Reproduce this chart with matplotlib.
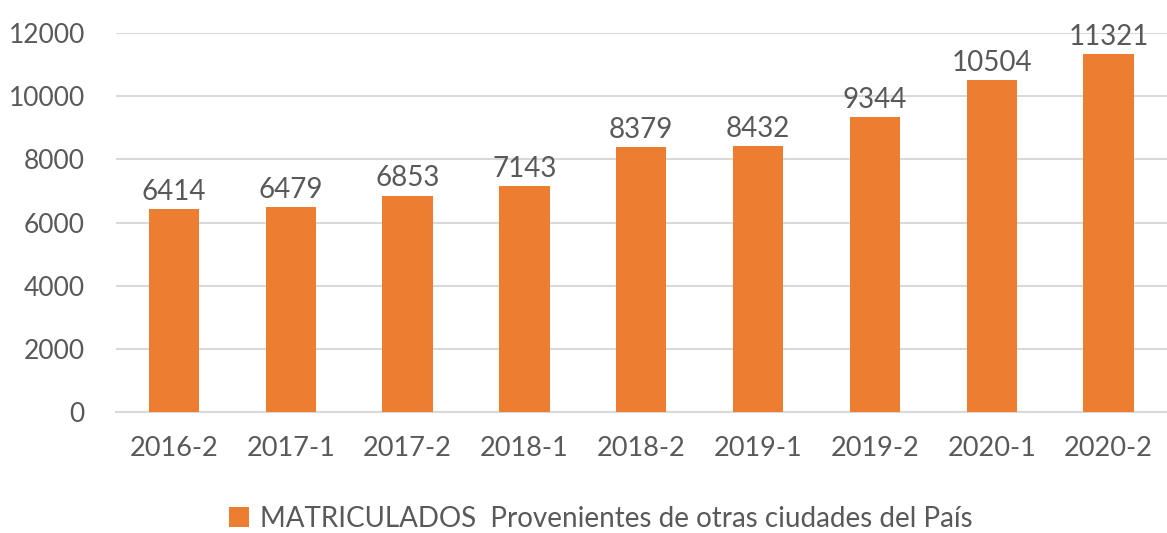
import matplotlib
matplotlib.use("Agg")
import matplotlib.pyplot as plt

# Datos del gráfico
periodos = ["2016-2", "2017-1", "2017-2", "2018-1", "2018-2",
            "2019-1", "2019-2", "2020-1", "2020-2"]
matriculados = [6414, 6479, 6853, 7143, 8379, 8432, 9344, 10504, 11321]
y_ticks = [0, 2000, 4000, 6000, 8000, 10000, 12000]
etiqueta_serie = "MATRICULADOS  Provenientes de otras ciudades del País"

NARANJA = "#ED7D31"
GRIS_TEXTO = "#595959"
GRIS_REJILLA = "#D9D9D9"

plt.rcParams["font.family"] = ["Lato", "DejaVu Sans"]

fig = plt.figure(figsize=(11.67, 5.33), dpi=100)
ax = fig.add_axes([0.099, 0.227, 0.901, 0.711])

x = range(len(periodos))
barras = ax.bar(x, matriculados, width=0.43, color=NARANJA, zorder=3,
                label=etiqueta_serie)

# Etiquetas de valor encima de cada barra
for barra, valor in zip(barras, matriculados):
    ax.annotate(f"{valor}", (barra.get_x() + barra.get_width() / 2, valor),
                xytext=(0, 3), textcoords="offset points",
                ha="center", va="bottom", fontsize=20, color=GRIS_TEXTO)

ax.set_xlim(-0.5, len(periodos) - 0.5)
ax.set_ylim(0, 12000)
ax.set_yticks(y_ticks)
ax.set_xticks(list(x))
ax.set_xticklabels(periodos)

ax.yaxis.grid(True, color=GRIS_REJILLA, linewidth=1.5, zorder=0)
for lado in ["top", "right", "left"]:
    ax.spines[lado].set_visible(False)
ax.spines["bottom"].set_color(GRIS_REJILLA)
ax.spines["bottom"].set_linewidth(1.5)

ax.tick_params(axis="y", length=0, pad=22, labelsize=19, labelcolor=GRIS_TEXTO)
ax.tick_params(axis="x", length=0, pad=17, labelsize=19.5, labelcolor=GRIS_TEXTO)

fig.legend(loc="center", bbox_to_anchor=(0.515, 0.027), frameon=False,
           fontsize=20, labelcolor=GRIS_TEXTO, handlelength=0.7,
           handleheight=0.7, handletextpad=0.4)

fig.savefig("out.png", dpi=100)
